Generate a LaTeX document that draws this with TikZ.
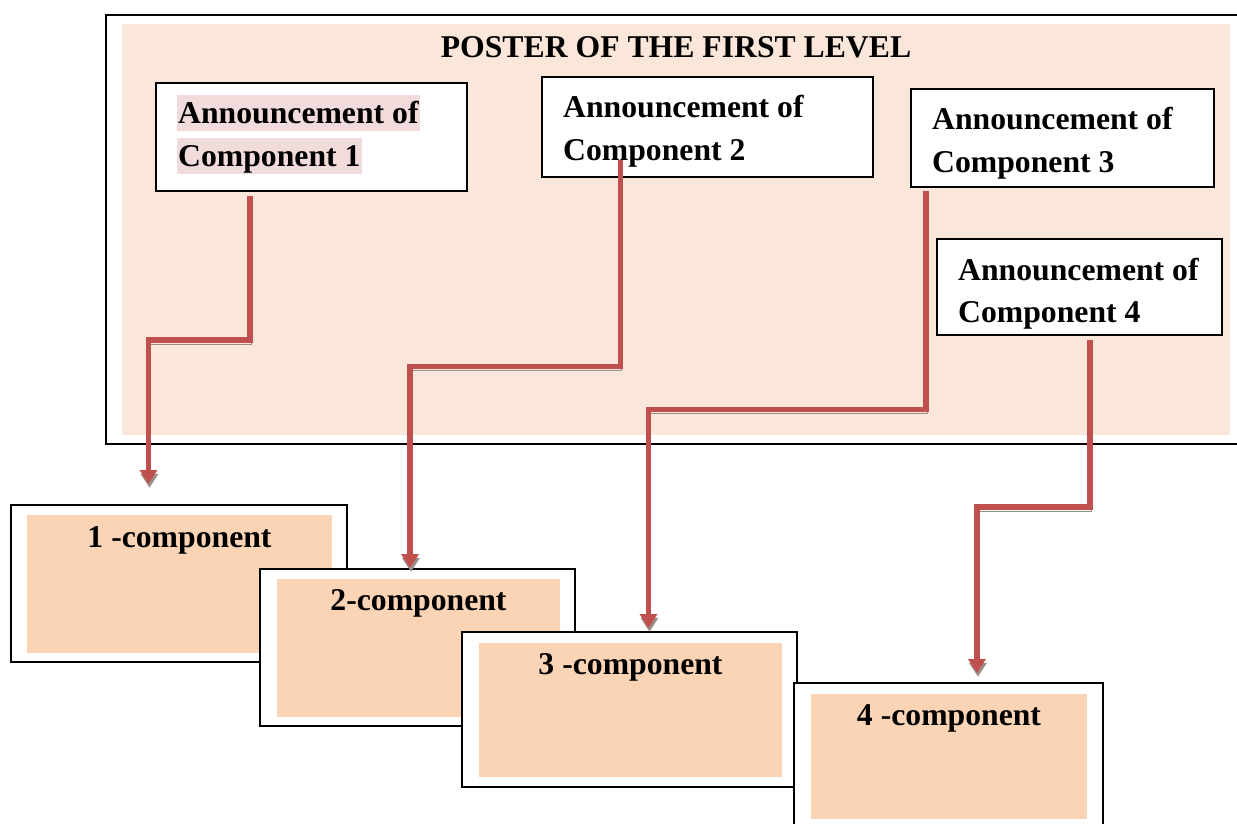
\documentclass[tikz,border=0pt]{standalone}
\usepackage{fontspec}
\setmainfont{Liberation Serif}
\usetikzlibrary{arrows.meta}
\definecolor{posterfill}{HTML}{FBE7D9}
\definecolor{compfill}{HTML}{FAD4B4}
\definecolor{linkred}{HTML}{C0504D}
\definecolor{linkshadow}{HTML}{9A8E88}
\definecolor{markpink}{HTML}{F2DBDB}

\begin{document}
\begin{tikzpicture}[x=1pt,y=-1pt,
  frame/.style={draw=black, line width=1.2pt, fill=white, inner sep=0pt},
  pane/.style={fill=#1, inner sep=0pt},
  txt/.style={inner sep=0pt, font=\fontsize{31.7}{40}\selectfont\bfseries},
  marked/.style={txt, fill=markpink, inner xsep=1.5pt, text height=28pt, text depth=8pt},
  link/.style={draw=linkred, line width=5.8pt, line join=miter,
    -{Triangle[width=17pt,length=14pt]},
    preaction={draw=linkshadow, transform canvas={shift={(1pt,-3.8pt)}}}}
]
\useasboundingbox (0,0) rectangle (1237,823);
\clip (0,0) rectangle (1237,823);

% poster of the first level
\node[frame, minimum width=1139pt, minimum height=429pt] (poster) at (675.5,229.5) {};
\node[pane=posterfill, minimum width=1108pt, minimum height=411pt] (posterin) at (676,229.5) {};
\node[txt, anchor=base] (title) at (676,57) {POSTER OF THE FIRST LEVEL};

% announcements
\node[frame, minimum width=311pt, minimum height=108pt] (a1) at (311.5,137) {};
\node[marked, anchor=base west] (a1l1) at (176.5,123) {Announcement of};
\node[marked, anchor=base west] (a1l2) at (176.5,166) {Component 1};

\node[frame, minimum width=331pt, minimum height=100pt] (a2) at (707.5,127) {};
\node[txt, anchor=base west] (a2l1) at (563,117) {Announcement of};
\node[txt, anchor=base west] (a2l2) at (563,160) {Component 2};

\node[frame, minimum width=303pt, minimum height=98pt] (a3) at (1062.5,138) {};
\node[txt, anchor=base west] (a3l1) at (932,129) {Announcement of};
\node[txt, anchor=base west] (a3l2) at (932,172) {Component 3};

\node[frame, minimum width=285pt, minimum height=96pt] (a4) at (1079.5,287) {};
\node[txt, anchor=base west] (a4l1) at (958,280) {Announcement of};
\node[txt, anchor=base west] (a4l2) at (958,322) {Component 4};

% components
\node[frame, minimum width=336pt, minimum height=157pt] (c1) at (179,583.5) {};
\node[pane=compfill, minimum width=305pt, minimum height=138pt] (c1in) at (179.5,584) {};
\node[txt, anchor=base] (c1t) at (179.5,547) {1 -component};

\node[frame, minimum width=315pt, minimum height=157pt] (c2) at (417.5,647.5) {};
\node[pane=compfill, minimum width=283pt, minimum height=138pt] (c2in) at (418.5,648) {};
\node[txt, anchor=base] (c2t) at (418.5,610) {2-component};

\node[frame, minimum width=335pt, minimum height=155pt] (c3) at (629.5,709.5) {};
\node[pane=compfill, minimum width=303pt, minimum height=134pt] (c3in) at (630.5,710) {};
\node[txt, anchor=base] (c3t) at (630.5,674) {3 -component};

\node[frame, minimum width=309pt, minimum height=157pt] (c4) at (948.5,761.5) {};
\node[pane=compfill, minimum width=276pt, minimum height=125pt] (c4in) at (949,756.5) {};
\node[txt, anchor=base] (c4t) at (949,725) {4 -component};

% connector ends
\coordinate (s1) at (250,196);
\coordinate (e1) at (148.5,484);
\coordinate (s2) at (620.5,160);
\coordinate (e2) at (410,568);
\coordinate (s3) at (926,191);
\coordinate (e3) at (648.5,628);
\coordinate (s4) at (1090,340);
\coordinate (e4) at (977,673);

% connectors
\draw[link] (s1) |- (e1 |- 0,340) -- (e1);
\draw[link] (s2) |- (e2 |- 0,366.5) -- (e2);
\draw[link] (s3) |- (e3 |- 0,409.5) -- (e3);
\draw[link] (s4) |- (e4 |- 0,507) -- (e4);
\end{tikzpicture}
\end{document}
